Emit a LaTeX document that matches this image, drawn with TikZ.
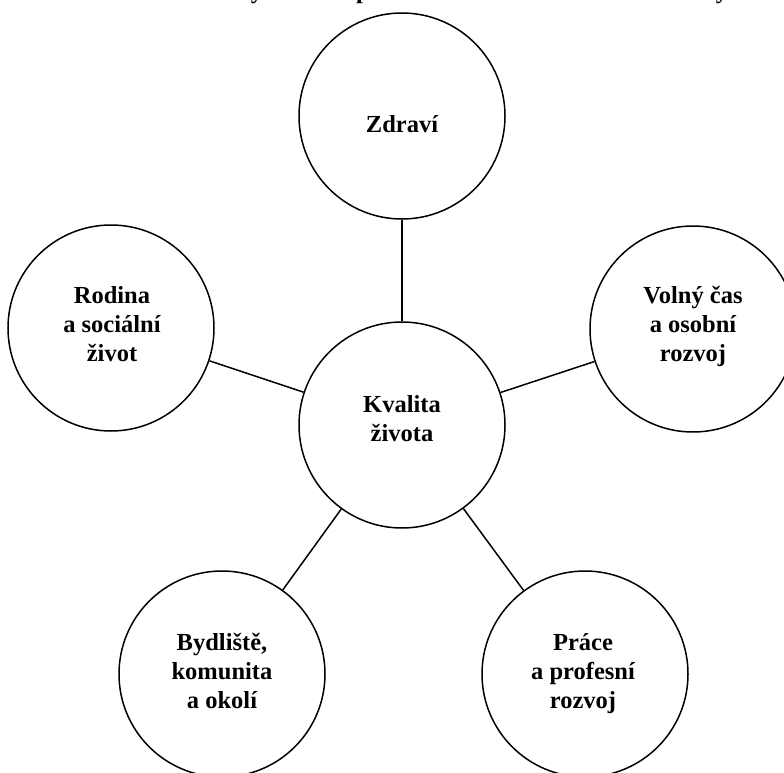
\documentclass[tikz,border=0pt]{standalone}
\usepackage{fontspec}
\setmainfont{Liberation Serif}
\begin{document}
\begin{tikzpicture}[x=1pt,y=-1pt,
  ring/.style={draw=black,line width=1.5pt,circle,minimum size=206pt,inner sep=0pt,fill=white},
  lbl/.style={font=\fontsize{24.5}{29}\selectfont\bfseries,align=center,inner sep=0pt,anchor=north},
  link/.style={draw=black,line width=1.5pt}]
\useasboundingbox (0,0) rectangle (784,773);
\clip (0,0) rectangle (784,773);
% title fragments (only descenders visible)
\node[font=\fontsize{24.5}{29}\selectfont\bfseries,inner sep=0pt,anchor=base] (t1) at (257,-1.5) {y};
\node[font=\fontsize{24.5}{29}\selectfont\bfseries,inner sep=0pt,anchor=base] (t2) at (363,-1.5) {p};
\node[font=\fontsize{24.5}{29}\selectfont\bfseries,inner sep=0pt,anchor=base] (t3) at (722,-1.5) {y};
% circles
\node[ring] (k) at (402,425) {};
\node[ring] (z) at (402,116) {};
\node[ring] (r) at (111,328) {};
\node[ring] (v) at (693,329) {};
\node[ring] (b) at (222,674) {};
\node[ring] (p) at (585,674) {};
% connectors
\draw[link] (k) -- (z);
\draw[link] (k) -- (r);
\draw[link] (k) -- (v);
\draw[link] (k) -- (b);
\draw[link] (k) -- (p);
% labels
\node[lbl] (kt) at (402,392) {\rule{0pt}{20pt}Kvalita\\života\rule[-8pt]{0pt}{8pt}};
\node[lbl] (zt) at (402,112) {\rule{0pt}{20pt}Zdraví\rule[-8pt]{0pt}{8pt}};
\node[lbl] (rt) at (112,283) {\rule{0pt}{20pt}Rodina\\a sociální\\život\rule[-8pt]{0pt}{8pt}};
\node[lbl] (vt) at (693,283) {\rule{0pt}{20pt}Volný čas\\a osobní\\rozvoj\rule[-8pt]{0pt}{8pt}};
\node[lbl] (bt) at (222,630) {\rule{0pt}{20pt}Bydliště,\\komunita\\a okolí\rule[-8pt]{0pt}{8pt}};
\node[lbl] (pt) at (583,630) {\rule{0pt}{20pt}Práce\\a profesní\\rozvoj\rule[-8pt]{0pt}{8pt}};
\end{tikzpicture}
\end{document}
